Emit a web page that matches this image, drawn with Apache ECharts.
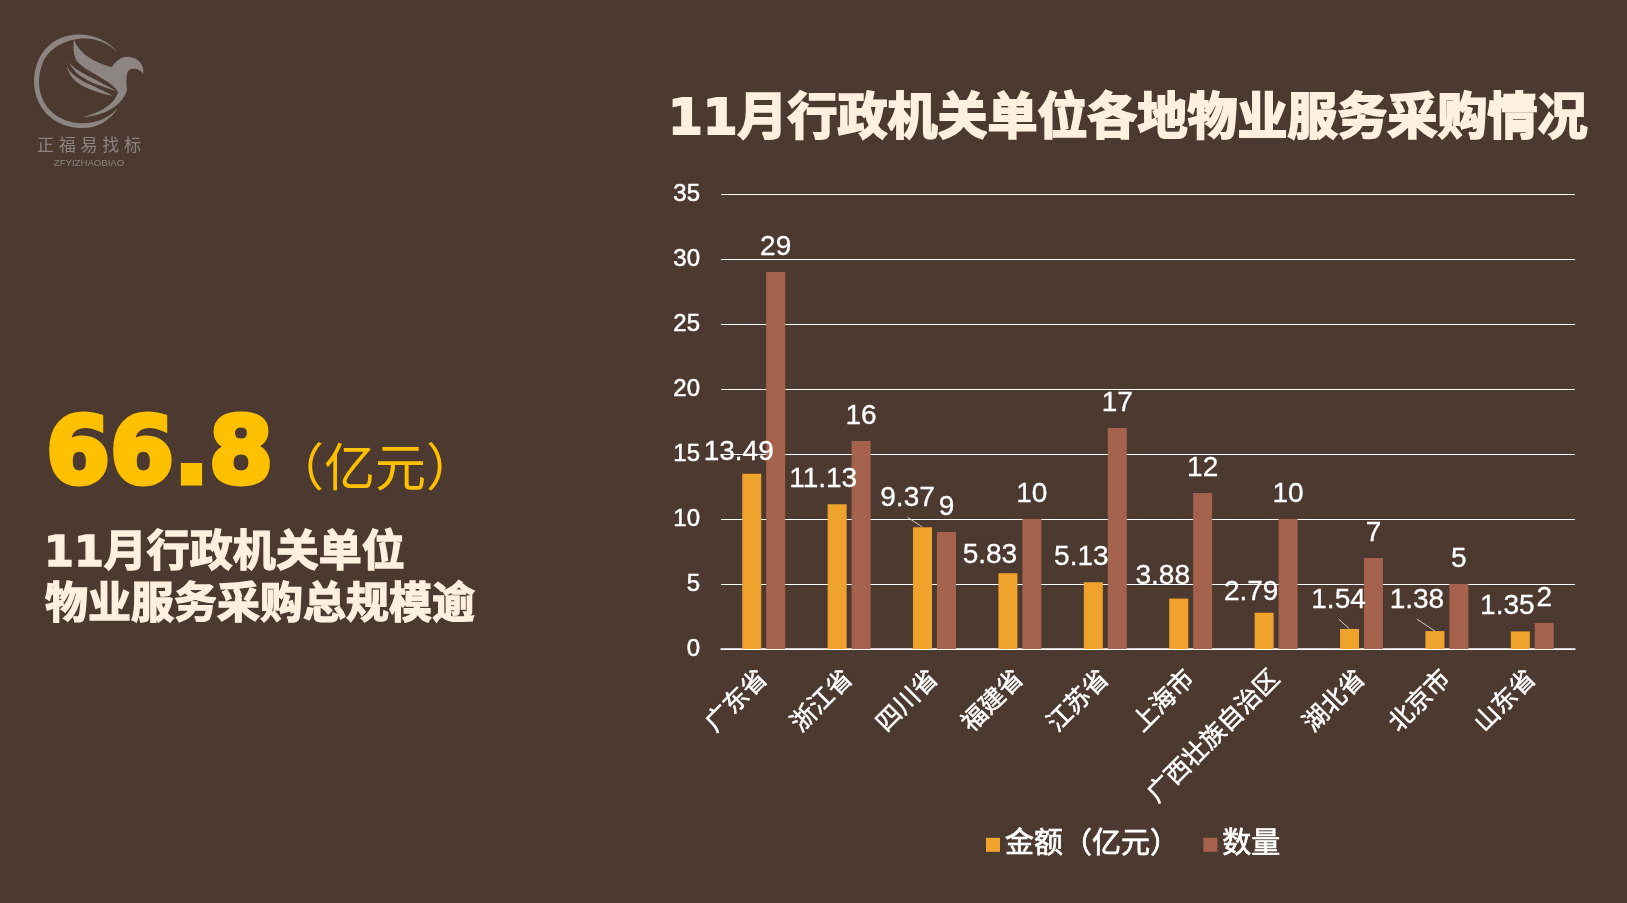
<!DOCTYPE html>
<html>
<head>
<meta charset="utf-8">
<title>11月行政机关单位各地物业服务采购情况</title>
<style>
  html, body { margin: 0; padding: 0; background: #4c3a30; }
  #chart { width: 1627px; height: 903px; }
</style>
<script src="https://cdn.jsdelivr.net/npm/echarts@6/dist/echarts.min.js"></script>
</head>
<body>
<div id="chart"></div>
<script>
// 数据
const provinces = ["广东省", "浙江省", "四川省", "福建省", "江苏省", "上海市", "广西壮族自治区", "湖北省", "北京市", "山东省"];
const amounts = [13.49, 11.13, 9.37, 5.83, 5.13, 3.88, 2.79, 1.54, 1.38, 1.35];
const counts = [29, 16, 9, 10, 17, 12, 10, 7, 5, 2];

// 金额标签相对柱顶的手动偏移
const amountLabelDx = [-13, -14, -15, -18, -12, -16, -13, -11, -18, -13];
const amountLabelDy = [-4, -8, -12, -1, -8, -5, -3, -12, -14, -8];

// 引导线：柱序号和线头相对柱顶中心的偏移
const leaderIdx = [2, 7, 8];
const leaderDx = [-15, -11, -18];
const leaderDy = [-10, -10, -12];

const FONT = '"Liberation Sans","Noto Sans CJK SC",sans-serif';
const TITLE_FONT = '"DejaVu Sans","Noto Sans CJK SC",sans-serif';
const CREAM = "#fdf0de";
const LOGO = "#8d8581";
const BAR_W = 19;
const AMOUNT_BAR_SHIFT = -12;

// logo 轮廓（graphic 组件不支持 path，用 custom series 画）
const logoPaths = [
  "M118 53 C100 29 58 27 41 55 C24 85 39 126 80 128 C98 129 110 120 118 108 C105 122 90 124 78 123 C47 120 31 92 43 62 C54 38 95 28 118 53 Z",
  "M74 39 C77 50 90 62 112 67 C116 60 123 56 130 57 C138 58 145 65 143 74 C141 70 137 68 131 69 C126 71 126 78 127 90 C124 102 108 116 83 117 C100 113 115 104 118 92 C112 80 85 72 76 60 C73 53 73 46 74 39 Z",
  "M68 59 C70 70 95 78 116 91 C102 86 74 80 68 59 Z",
  "M67 66 C72 80 95 85 113 96 C96 92 70 86 67 66 Z",
];

const chart = echarts.init(document.getElementById("chart"));

function headline(text, x, y, size, fill, strokeW) {
  return {
    type: "text",
    x: x,
    y: y,
    style: {
      text: text,
      fill: fill,
      font: "bold " + size + "px " + TITLE_FONT,
      stroke: fill,
      lineWidth: strokeW,
      textVerticalAlign: "middle",
      shadowColor: "rgba(0,0,0,0.55)",
      shadowBlur: 4,
      shadowOffsetX: 2,
      shadowOffsetY: 2,
    },
  };
}

chart.setOption({
  animation: false,
  backgroundColor: "#4c3a30",
  grid: { left: 721, right: 52, top: 194, height: 455 },
  legend: {
    data: ["金额（亿元）", "数量"],
    left: 986,
    top: 830,
    padding: 0,
    itemWidth: 14,
    itemHeight: 14,
    itemGap: 24,
    icon: "rect",
    textStyle: {
      color: "#fff", fontSize: 29, fontFamily: FONT,
      textBorderColor: "#fff", textBorderWidth: 0.7,
    },
  },
  xAxis: {
    type: "category",
    data: provinces,
    axisTick: { show: false },
    axisLine: { lineStyle: { color: "#fff", width: 1.5 } },
    axisLabel: {
      rotate: 45,
      interval: 0,
      margin: 26,
      padding: [4, 0, 0, 0],
      color: "#fff",
      fontSize: 25,
      fontFamily: FONT,
      textBorderColor: "#fff",
      textBorderWidth: 0.5,
    },
  },
  yAxis: {
    type: "value",
    min: 0,
    max: 35,
    interval: 5,
    axisLine: { show: false },
    axisTick: { show: false },
    splitLine: { lineStyle: { color: "#fff", width: 1.2 } },
    axisLabel: {
      margin: 21,
      padding: [0, 0, 4, 0],
      color: "#fff",
      fontSize: 24,
      fontFamily: FONT,
      textBorderColor: "#fff",
      textBorderWidth: 0.5,
    },
  },
  series: [
    {
      name: "金额（亿元）",
      type: "bar",
      barWidth: BAR_W,
      barGap: "26%",
      itemStyle: { color: "#efa22c" },
      data: amounts,
      label: {
        show: true, position: "top", distance: 3, color: "#fff", fontSize: 28, fontFamily: FONT,
        textBorderColor: "#fff", textBorderWidth: 0.3,
      },
      labelLayout: (p) => ({ dx: amountLabelDx[p.dataIndex], dy: amountLabelDy[p.dataIndex] }),
    },
    {
      name: "数量",
      type: "bar",
      barWidth: BAR_W,
      itemStyle: { color: "#a5634e" },
      data: counts,
      label: {
        show: true, position: "top", distance: 11, color: "#fff", fontSize: 28, fontFamily: FONT,
        textBorderColor: "#fff", textBorderWidth: 0.3,
      },
    },
    {
      // 9.37 / 1.54 / 1.38 的引导线
      type: "custom",
      silent: true,
      data: leaderIdx.map((idx) => [idx, amounts[idx]]),
      renderItem: (params, api) => {
        const top = api.coord([api.value(0), api.value(1)]);
        const x = top[0] + AMOUNT_BAR_SHIFT;
        return {
          type: "line",
          shape: {
            x1: x,
            y1: top[1],
            x2: x + leaderDx[params.dataIndex],
            y2: top[1] + leaderDy[params.dataIndex],
          },
          style: { stroke: "#cfc9c4", lineWidth: 1 },
        };
      },
    },
    {
      type: "custom",
      coordinateSystem: "none",
      silent: true,
      data: [0],
      renderItem: () => ({
        type: "group",
        children: logoPaths.map((d) => ({
          type: "path",
          shape: { pathData: d },
          style: { fill: LOGO },
        })),
      }),
    },
  ],
  graphic: [
    // 左上角 logo 文字
    { type: "text", x: 89, y: 146, style: { text: "正 福 易 找 标", fill: LOGO, font: '17px "Liberation Sans","Noto Sans CJK SC"', textAlign: "center", textVerticalAlign: "middle" } },
    { type: "text", x: 89, y: 163, style: { text: "ZFYIZHAOBIAO", fill: LOGO, font: "9.6px " + FONT, textAlign: "center", textVerticalAlign: "middle" } },

    // 标题
    headline("11月行政机关单位各地物业服务采购情况", 668, 121, 50, CREAM, 2),

    // 左侧说明
    {
      type: "text", x: 46, y: 459,
      style: {
        text: "66.8", fill: "#ffc000", font: 'bold 92px "DejaVu Sans"', stroke: "#ffc000", lineWidth: 5,
        textVerticalAlign: "middle", shadowColor: "rgba(0,0,0,0.55)", shadowBlur: 4, shadowOffsetX: 2, shadowOffsetY: 2,
      },
    },
    {
      type: "text", x: 273, y: 472,
      style: {
        text: "（亿元）", fill: "#ffc000", font: "51px " + FONT,
        textVerticalAlign: "middle", shadowColor: "rgba(0,0,0,0.55)", shadowBlur: 4, shadowOffsetX: 2, shadowOffsetY: 2,
      },
    },
    headline("11月行政机关单位", 44, 555, 43, CREAM, 1.4),
    headline("物业服务采购总规模逾", 45, 607, 43, CREAM, 1.4),
  ],
});
</script>
</body>
</html>
